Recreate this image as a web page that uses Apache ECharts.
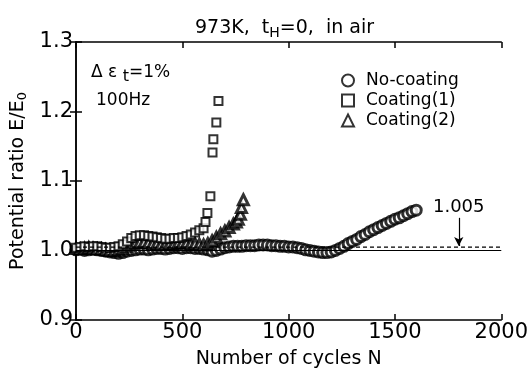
<!DOCTYPE html>
<html>
<head>
<meta charset="utf-8">
<script src="https://cdn.jsdelivr.net/npm/echarts@6/dist/echarts.min.js"></script>
<style>
  html, body { margin: 0; padding: 0; background: #fff; }
  #main { width: 531px; height: 379px; }
</style>
</head>
<body>
<div id="main"></div>
<script>
// No-coating (circles)
const noCoatN = [0, 20, 40, 60, 80, 100, 120, 140, 160, 180, 200, 220, 240, 260, 280, 300, 320, 340, 360, 380,
  400, 420, 440, 460, 480, 500, 520, 540, 560, 580, 600, 620, 640, 660, 680, 700, 720, 740, 760, 780,
  800, 820, 840, 860, 880, 900, 920, 940, 960, 980, 1000, 1020, 1040, 1060, 1080, 1100, 1120, 1140, 1160, 1180,
  1200, 1220, 1240, 1260, 1280, 1300, 1320, 1340, 1360, 1380, 1400, 1420, 1440, 1460, 1480, 1500, 1520, 1540, 1560, 1580, 1600];
const noCoatE = [1.001, 1.002, 1.000, 1.001, 1.002, 1.001, 1.000, 0.999, 0.998, 0.997, 0.996, 0.997, 0.999, 1.000, 1.001, 1.002, 1.002, 1.001, 1.002, 1.003,
  1.003, 1.002, 1.003, 1.004, 1.004, 1.003, 1.004, 1.004, 1.003, 1.003, 1.002, 1.001, 0.999, 1.000, 1.002, 1.004, 1.005, 1.006, 1.006, 1.006,
  1.007, 1.007, 1.007, 1.008, 1.008, 1.008, 1.007, 1.007, 1.006, 1.006, 1.005, 1.005, 1.004, 1.003, 1.001, 1.000, 0.999, 0.998, 0.997, 0.997,
  0.998, 1.000, 1.003, 1.006, 1.010, 1.013, 1.016, 1.020, 1.023, 1.027, 1.030, 1.033, 1.036, 1.039, 1.042, 1.045, 1.047, 1.050, 1.053, 1.056, 1.058];

// Coating(1) (squares)
const coat1N = [0, 20, 40, 60, 80, 100, 120, 140, 160, 180, 200, 220, 240, 260, 280, 300, 320, 340, 360, 380,
  400, 420, 440, 460, 480, 500, 520, 540, 560, 580, 600, 609, 618, 632, 642, 646, 660, 670];
const coat1E = [1.004, 1.005, 1.006, 1.005, 1.006, 1.006, 1.005, 1.004, 1.004, 1.005, 1.006, 1.009, 1.013, 1.018, 1.021, 1.022, 1.022, 1.021, 1.020, 1.019,
  1.018, 1.017, 1.017, 1.018, 1.018, 1.019, 1.021, 1.023, 1.026, 1.029, 1.032, 1.041, 1.054, 1.078, 1.141, 1.160, 1.184, 1.215];

// Coating(2) (triangles)
const coat2N = [0, 20, 40, 60, 80, 100, 120, 140, 160, 180, 200, 220, 240, 260, 280, 300, 320, 340, 360, 380,
  400, 420, 440, 460, 480, 500, 520, 540, 560, 580, 600, 620, 640, 660, 680, 700, 720, 740, 754, 763, 773, 778, 787];
const coat2E = [1.003, 1.002, 1.003, 1.004, 1.003, 1.002, 1.002, 1.001, 1.000, 1.000, 1.001, 1.003, 1.006, 1.009, 1.011, 1.012, 1.012, 1.011, 1.010, 1.010,
  1.009, 1.009, 1.010, 1.010, 1.011, 1.011, 1.011, 1.010, 1.010, 1.009, 1.008, 1.010, 1.014, 1.019, 1.024, 1.028, 1.033, 1.038, 1.041, 1.045, 1.052, 1.062, 1.073];

const xTicks = [0, 500, 1000, 1500, 2000];
const yTicks = [0.9, 1.0, 1.1, 1.2, 1.3];
const baseLevel = 1.0;
const limitLevel = 1.005;
const arrowN = 1800;
const arrowFrom = 1.047;

const font = "DejaVu Sans";
const xMin = xTicks[0];
const xMax = xTicks[xTicks.length - 1];
const pairs = (xs, ys) => xs.map((x, i) => [x, ys[i]]);
const hollow = (w) => ({ color: "#fff", borderColor: "#000", borderWidth: w });

const chart = echarts.init(document.getElementById("main"));

const option = {
  backgroundColor: "#fff",
  animation: false,
  textStyle: { fontFamily: font, color: "#000" },
  title: {
    text: "973K,  t{sub|H}=0,  in air",
    left: 190,
    top: 11,
    textStyle: {
      fontFamily: font, fontSize: 19, fontWeight: "normal", color: "#000",
      rich: { sub: { fontFamily: font, fontSize: 14, padding: [10, 0, 0, 0], color: "#000" } },
    },
  },
  legend: {
    orient: "vertical",
    left: 336,
    top: 67,
    itemWidth: 12,
    itemHeight: 12,
    itemGap: 3,
    textStyle: { fontFamily: font, fontSize: 17, color: "#000", padding: [0, 0, 0, 7] },
    data: ["No-coating", "Coating(1)", "Coating(2)"],
  },
  graphic: [
    {
      type: "text", left: 91, top: 64,
      style: {
        text: "Δ ε {sub|t}=1%",
        font: "17px " + font, fill: "#000",
        rich: { sub: { fontFamily: font, fontSize: 16, padding: [9, 0, 0, 0], fill: "#000" } },
      },
    },
    { type: "text", left: 96, top: 92, style: { text: "100Hz", font: "17px " + font, fill: "#000" } },
  ],
  grid: { left: 76, right: 28, top: 42, bottom: 59 },
  xAxis: [
    {
      type: "value", min: xMin, max: xMax, interval: 500,
      name: "Number of cycles N", nameLocation: "middle", nameGap: 30,
      nameTextStyle: { fontFamily: font, fontSize: 19, color: "#000" },
      axisLine: { lineStyle: { color: "#000", width: 1.5 } },
      axisTick: { inside: true, length: 6, lineStyle: { color: "#000", width: 1.5 } },
      axisLabel: { fontFamily: font, fontSize: 21, color: "#000", margin: 2, formatter: (v) => String(v) },
      splitLine: { show: false },
    },
    {
      type: "value", position: "top", min: xMin, max: xMax, interval: 500,
      axisLine: { show: true, lineStyle: { color: "#000", width: 1.5 } },
      axisTick: { inside: true, length: 6, lineStyle: { color: "#000", width: 1.5 } },
      axisLabel: { show: false },
      splitLine: { show: false },
    },
  ],
  yAxis: [
    {
      type: "value", min: yTicks[0], max: yTicks[yTicks.length - 1], interval: 0.1,
      name: "Potential ratio E/E{sub|0}", nameLocation: "middle", nameGap: 47,
      nameTextStyle: {
        fontFamily: font, fontSize: 19, color: "#000",
        rich: { sub: { fontFamily: font, fontSize: 13, padding: [9, 0, 0, 0], color: "#000" } },
      },
      axisLine: { lineStyle: { color: "#000", width: 1.5 } },
      axisTick: { inside: true, length: 6, lineStyle: { color: "#000", width: 1.5 } },
      axisLabel: { fontFamily: font, fontSize: 21, color: "#000", margin: 3, formatter: (v) => v.toFixed(1) },
      splitLine: { show: false },
    },
    {
      type: "value", position: "right", min: yTicks[0], max: yTicks[yTicks.length - 1], interval: 0.1,
      axisLine: { show: true, lineStyle: { color: "#000", width: 1.5 } },
      axisTick: { inside: true, length: 6, lineStyle: { color: "#000", width: 1.5 } },
      axisLabel: { show: false },
      splitLine: { show: false },
    },
  ],
  series: [
    {
      name: "base", type: "line", silent: true, symbol: "none",
      lineStyle: { color: "#000", width: 1.2, type: "solid" },
      data: [[xMin, baseLevel], [xMax, baseLevel]],
    },
    {
      name: "limit", type: "line", silent: true, symbol: "none",
      lineStyle: { color: "#000", width: 1.2, type: [4, 3] },
      data: [[xMin, limitLevel], [xMax, limitLevel]],
    },
    {
      name: "arrow",
      type: "line",
      data: [],
      silent: true,
      markLine: {
        silent: true,
        symbol: ["none", "arrow"],
        symbolSize: [7, 9],
        lineStyle: { color: "#000", width: 1.2, type: "solid" },
        label: { show: true, position: "start", formatter: "1.005", fontFamily: font, fontSize: 18, color: "#000", distance: 2 },
        data: [[{ coord: [arrowN, arrowFrom] }, { coord: [arrowN, limitLevel + 0.0015] }]],
      },
    },
    {
      name: "No-coating", type: "scatter", symbol: "circle", symbolSize: 10,
      itemStyle: hollow(3), data: pairs(noCoatN, noCoatE),
    },
    {
      name: "Coating(2)", type: "scatter", symbol: "triangle", symbolSize: 10,
      itemStyle: hollow(3), data: pairs(coat2N, coat2E),
    },
    {
      name: "Coating(1)", type: "scatter", symbol: "rect", symbolSize: 8,
      itemStyle: hollow(2), data: pairs(coat1N, coat1E),
    },
  ],
};

chart.setOption(option);
</script>
</body>
</html>
